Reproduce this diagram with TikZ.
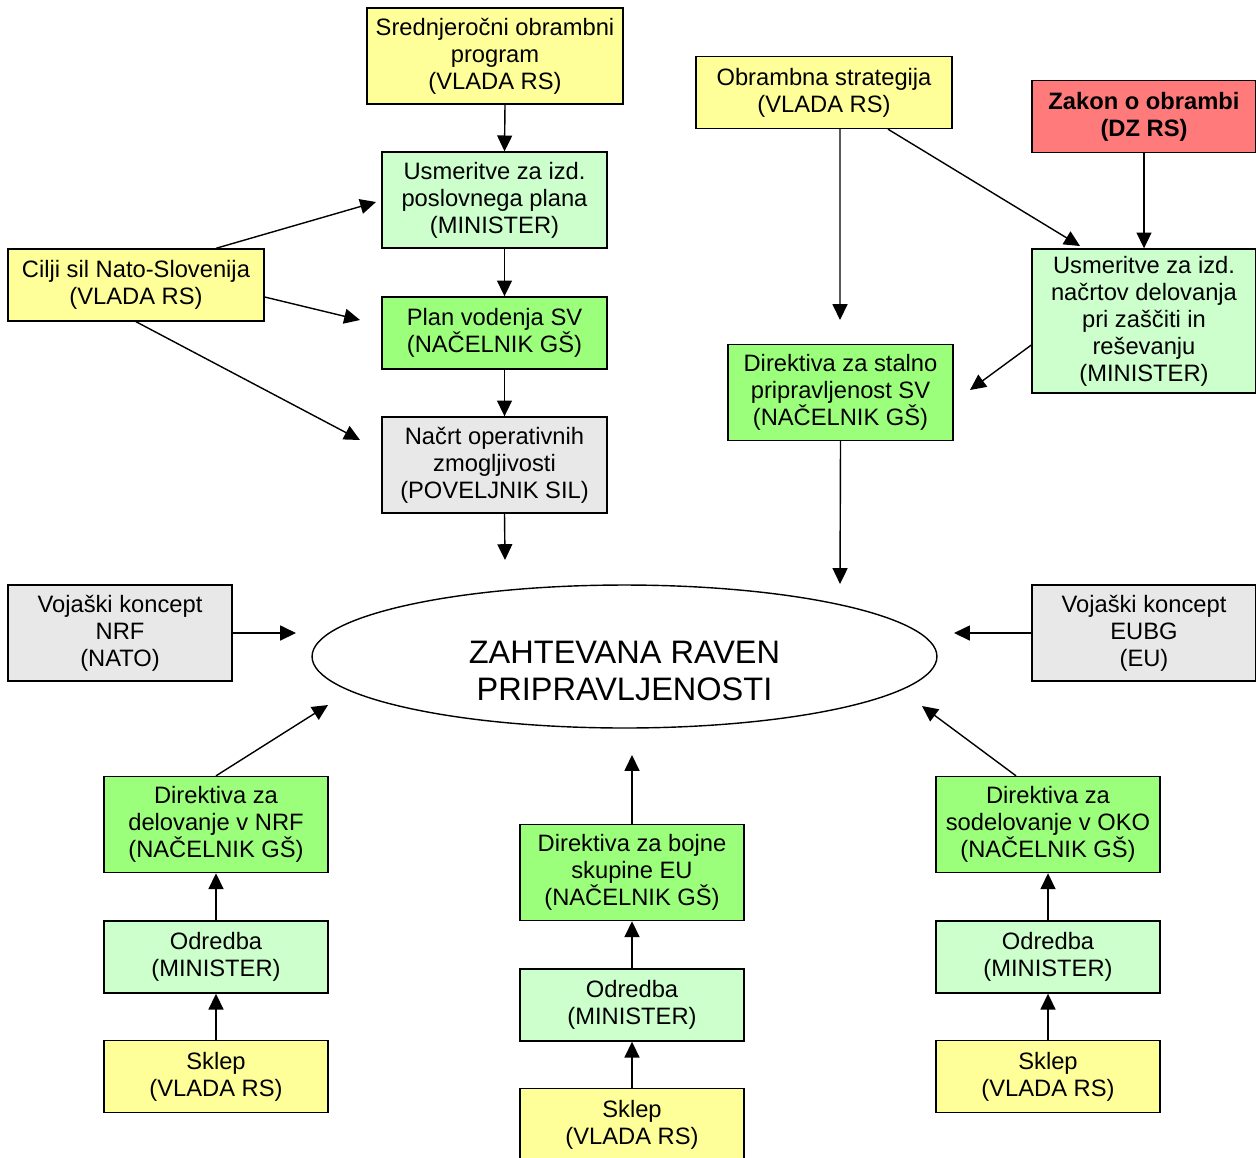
\documentclass[tikz,border=0pt]{standalone}
\usepackage{fontspec}
\setmainfont{Liberation Sans}
\usetikzlibrary{shapes.geometric,arrows.meta}

\definecolor{rumena}{HTML}{FFFF99}
\definecolor{svzelena}{HTML}{CCFFCC}
\definecolor{zelena}{HTML}{9CFF7C}
\definecolor{siva}{HTML}{E8E8E8}
\definecolor{rdeca}{HTML}{FF7A7A}

\newcommand{\boxfont}{\fontsize{13.5}{15.4}\selectfont}

\tikzset{
  box/.style={draw, line width=0.8pt, inner sep=0pt, align=center, font=\boxfont},
  wide/.style={minimum width=5.12cm},
  mid/.style={minimum width=4.5cm},
  nar/.style={minimum width=4.48cm},
  two/.style={minimum height=1.44cm},
  three/.style={minimum height=1.92cm},
  yel/.style={box, fill=rumena},
  mint/.style={box, fill=svzelena},
  grn/.style={box, fill=zelena},
  gry/.style={box, fill=siva},
  red/.style={box, fill=rdeca},
  conn/.style={->, line width=0.8pt},
  >={Triangle[length=9pt,width=8.5pt]}
}

\begin{document}
\begin{tikzpicture}[x=0.02cm, y=-0.02cm]
	\useasboundingbox (0,0) rectangle (1256,1157);

	% top left column
	\node[yel, wide, three] (srednj) at (495,56) {Srednjeročni obrambni\\program\\(VLADA RS)};
	\node[mint, mid, three] (usm1) at (494.5,200) {Usmeritve za izd.\\poslovnega plana\\(MINISTER)};
	\node[grn, mid, two] (plan) at (494.5,333) {Plan vodenja SV\\(NAČELNIK GŠ)};
	\node[gry, mid, three] (nacrt) at (494.5,465) {Načrt operativnih\\zmogljivosti\\(POVELJNIK SIL)};
	\node[yel, wide, two] (cilji) at (136,285) {Cilji sil Nato-Slovenija\\(VLADA RS)};

	% top right
	\node[yel, wide, two] (obr) at (824,92.5) {Obrambna strategija\\(VLADA RS)};
	\node[red, nar, two, font=\boxfont\bfseries] (zakon) at (1144,116.5) {Zakon o obrambi\\(DZ RS)};
	\node[mint, nar, minimum height=2.88cm] (usm2) at (1144,321) {Usmeritve za izd.\\načrtov delovanja\\pri zaščiti in\\reševanju\\(MINISTER)};
	\node[grn, mid, three] (dirS) at (840.5,392.5) {Direktiva za stalno\\pripravljenost SV\\(NAČELNIK GŠ)};

	% middle
	\node[draw, line width=0.8pt, ellipse, inner sep=0pt, minimum width=12.5cm, minimum height=2.86cm] (raven) at (624.5,656.5) {};
	\node[align=center, font=\fontsize{18.5}{21.5}\selectfont] (ravenTxt) at (624.5,671) {ZAHTEVANA RAVEN\\PRIPRAVLJENOSTI};
	\node[gry, nar, three] (vojNRF) at (120,633) {Vojaški koncept\\NRF\\(NATO)};
	\node[gry, nar, three] (vojEU) at (1144,633) {Vojaški koncept\\EUBG\\(EU)};

	% bottom columns
	\node[grn, nar, three] (dirNRF) at (216,824.5) {Direktiva za\\delovanje v NRF\\(NAČELNIK GŠ)};
	\node[mint, nar, two] (odr1) at (216,957) {Odredba\\(MINISTER)};
	\node[yel, nar, two] (sklep1) at (216,1076.5) {Sklep\\(VLADA RS)};

	\node[grn, nar, three] (dirEU) at (632,872.5) {Direktiva za bojne\\skupine EU\\(NAČELNIK GŠ)};
	\node[mint, nar, two] (odr2) at (632,1005) {Odredba\\(MINISTER)};
	\node[yel, nar, two] (sklep2) at (632,1124.5) {Sklep\\(VLADA RS)};

	\node[grn, nar, three] (dirOKO) at (1048,824.5) {Direktiva za\\sodelovanje v OKO\\(NAČELNIK GŠ)};
	\node[mint, nar, two] (odr3) at (1048,957) {Odredba\\(MINISTER)};
	\node[yel, nar, two] (sklep3) at (1048,1076.5) {Sklep\\(VLADA RS)};

	% free arrow ends
	\coordinate (tNacrt) at (505,560);
	\coordinate (tUsm1) at (376,202);
	\coordinate (tPlan) at (360,320);
	\coordinate (tNacrtL) at (360,440);
	\coordinate (tObr) at (840,320);
	\coordinate (tUsm2) at (1080,246);
	\coordinate (tDirS) at (970,390);
	\coordinate (tRavenT) at (840,584);
	\coordinate (tRavenL) at (296,633);
	\coordinate (tRavenR) at (954,633);
	\coordinate (tRavenBL) at (328,705);
	\coordinate (tRavenB) at (632,755);
	\coordinate (tRavenBR) at (922,706);

	% arrows
	\draw[conn] ([xshift=0.2cm]srednj.south) -- ([xshift=0.2cm]usm1.north);
	\draw[conn] ([xshift=0.2cm]usm1.south) -- ([xshift=0.2cm]plan.north);
	\draw[conn] ([xshift=0.2cm]plan.south) -- ([xshift=0.2cm]nacrt.north);
	\draw[conn] ([xshift=0.2cm]nacrt.south) -- (tNacrt);
	\draw[conn] ([xshift=1.6cm]cilji.north) -- (tUsm1);
	\draw[conn] ([yshift=-0.24cm]cilji.east) -- (tPlan);
	\draw[conn] (cilji.south) -- (tNacrtL);
	\draw[conn] ([xshift=0.32cm]obr.south) -- (tObr);
	\draw[conn] ([xshift=1.28cm]obr.south) -- (tUsm2);
	\draw[conn] (zakon.south) -- (usm2.north);
	\draw[conn] ([yshift=-0.48cm]usm2.west) -- (tDirS);
	\draw[conn] (dirS.south) -- (tRavenT);
	\draw[conn] (vojNRF.east) -- (tRavenL);
	\draw[conn] (vojEU.west) -- (tRavenR);
	\draw[conn] (dirNRF.north) -- (tRavenBL);
	\draw[conn] (dirEU.north) -- (tRavenB);
	\draw[conn] ([xshift=-0.64cm]dirOKO.north) -- (tRavenBR);
	\draw[conn] (odr1.north) -- (dirNRF.south);
	\draw[conn] (sklep1.north) -- (odr1.south);
	\draw[conn] (odr2.north) -- (dirEU.south);
	\draw[conn] (sklep2.north) -- (odr2.south);
	\draw[conn] (odr3.north) -- (dirOKO.south);
	\draw[conn] (sklep3.north) -- (odr3.south);
\end{tikzpicture}
\end{document}
